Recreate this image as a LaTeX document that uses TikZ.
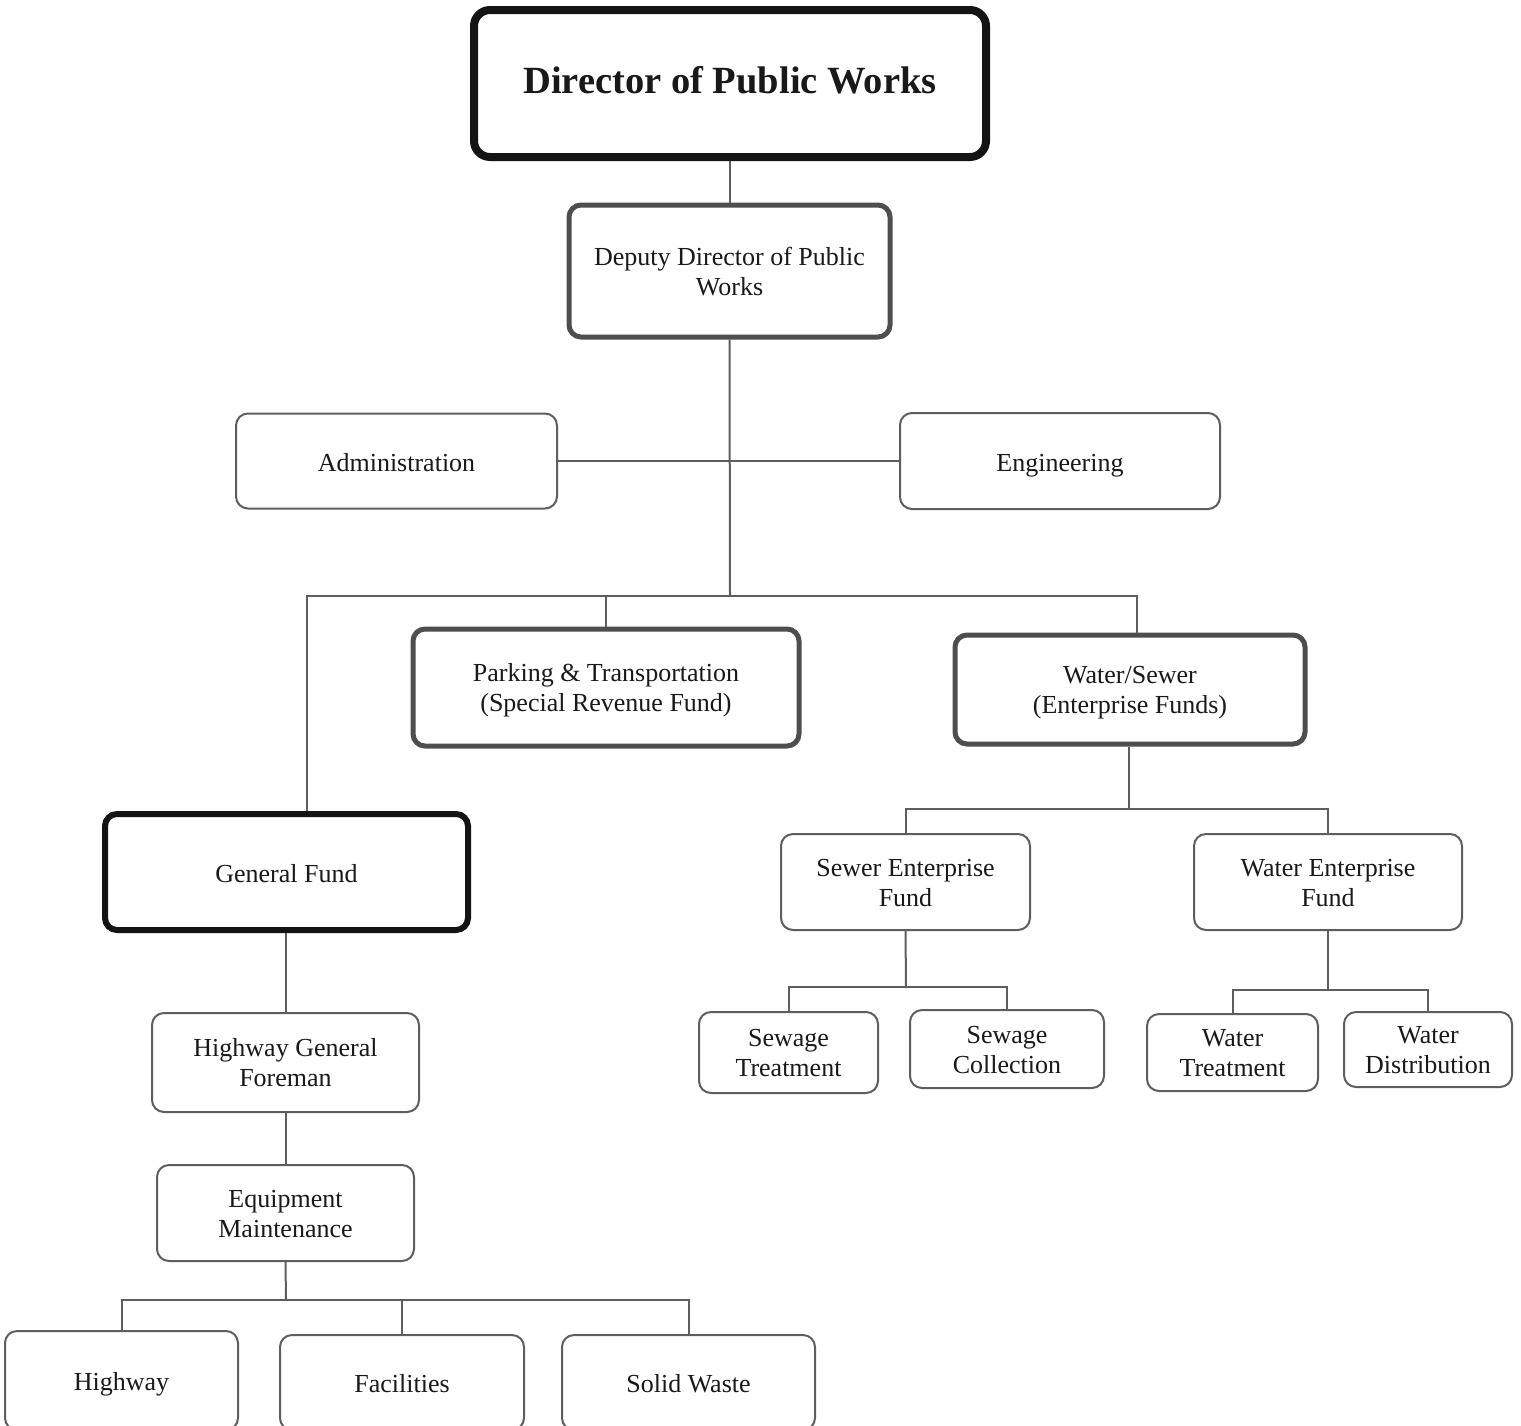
\documentclass[tikz,border=0pt]{standalone}
\usepackage{fontspec}
\setmainfont{Liberation Serif}
% invisible rule that fixes the height and depth of a one-line label
\newcommand{\labelstrut}{\rule[-7pt]{0pt}{34pt}}
\begin{document}
\begin{tikzpicture}[x=1pt,y=-1pt,
  box/.style={draw=linegray, line width=2pt, rounded corners=12pt, fill=white,
    inner sep=0pt, align=center, text=black!90,
    font=\fontsize{26}{30}\selectfont,
    execute at begin node=\labelstrut, execute at end node=\labelstrut},
  twoline/.style={execute at begin node={}, execute at end node={},
    text height=55pt, text depth=7pt},
  midbox/.style={box, draw=boxgray, line width=5pt},
  topbox/.style={box, draw=black!92, line width=6pt},
  headbox/.style={box, draw=black!92, line width=8pt, rounded corners=16pt,
    font=\fontsize{38.5}{44}\selectfont\bfseries},
  link/.style={draw=linegray, line width=2pt}]
\definecolor{linegray}{HTML}{5E5E5E}
\definecolor{boxgray}{HTML}{4E4E4E}
\useasboundingbox (0,0) rectangle (1521,1425);

% top of the hierarchy
\node[headbox, minimum width=512, minimum height=147] (dir) at (730,83.5) {Director of Public Works};
\node[midbox, twoline, minimum width=321, minimum height=132] (dep) at (729.5,271) {Deputy Director of Public\\Works};

% staff offices
\node[box, minimum width=321, minimum height=95] (adm) at (396.5,461) {Administration};
\node[box, minimum width=320, minimum height=96] (eng) at (1060,461) {Engineering};

% funds
\node[midbox, twoline, minimum width=386, minimum height=117] (park) at (606,687.5) {Parking \& Transportation\\(Special Revenue Fund)};
\node[midbox, twoline, minimum width=350, minimum height=109] (ws) at (1130,689.5) {Water/Sewer\\(Enterprise Funds)};
\node[topbox, minimum width=363, minimum height=116] (gf) at (286.5,872) {General Fund};

% enterprise funds
\node[box, twoline, minimum width=249, minimum height=96] (sef) at (905.5,882) {Sewer Enterprise\\Fund};
\node[box, twoline, minimum width=268, minimum height=96] (wef) at (1328,882) {Water Enterprise\\Fund};
\node[box, twoline, minimum width=179, minimum height=81] (st) at (788.5,1052.5) {Sewage\\Treatment};
\node[box, twoline, minimum width=194, minimum height=78] (sc) at (1007,1049) {Sewage\\Collection};
\node[box, twoline, minimum width=171, minimum height=77] (wt) at (1232.5,1052.5) {Water\\Treatment};
\node[box, twoline, minimum width=168, minimum height=75] (wd) at (1428,1049.5) {Water\\Distribution};

% general fund branch
\node[box, twoline, minimum width=267, minimum height=99] (hgf) at (285.5,1062.5) {Highway General\\Foreman};
\node[box, twoline, minimum width=257, minimum height=96] (eqm) at (285.5,1213) {Equipment\\Maintenance};
\node[box, minimum width=233, minimum height=99] (hwy) at (121.5,1380.5) {Highway};
\node[box, minimum width=244, minimum height=95] (fac) at (402,1382.5) {Facilities};
\node[box, minimum width=253, minimum height=95] (sw) at (688.5,1382.5) {Solid Waste};

% bus coordinates
\coordinate (busA) at (730,596);
\coordinate (busB) at (1129,809);
\coordinate (busC) at (906,987);
\coordinate (busD) at (1328,990);
\coordinate (busE) at (286,1300);

% connectors
\draw[link] (dep.north) -- (dep.north |- dir.south);
\draw[link] (dep.south) -- (busA);
\draw[link] (adm.east) -- (adm.east -| eng.west);
\draw[link] ([xshift=20pt]gf.north) -- ([xshift=20pt]gf.north |- busA) -- ([xshift=7pt]ws.north |- busA) -- ([xshift=7pt]ws.north);
\draw[link] (park.north) -- (park.north |- busA);

\draw[link] (busB) -- (busB |- ws.south);
\draw[link] (sef.north) -- (sef.north |- busB) -- (wef.north |- busB) -- (wef.north);

\draw[link] (sef.south) -- (busC);
\draw[link] (st.north) -- (st.north |- busC) -- (sc.north |- busC) -- (sc.north);
\draw[link] (wef.south) -- (busD);
\draw[link] (wt.north) -- (wt.north |- busD) -- (wd.north |- busD) -- (wd.north);

\draw[link] (hgf.north) -- (hgf.north |- gf.south);
\draw[link] (hgf.south) -- (eqm.north);
\draw[link] (eqm.south) -- (busE);
\draw[link] (hwy.north) -- (hwy.north |- busE) -- (sw.north |- busE) -- (sw.north);
\draw[link] (fac.north) -- (fac.north |- busE);
\end{tikzpicture}
\end{document}
